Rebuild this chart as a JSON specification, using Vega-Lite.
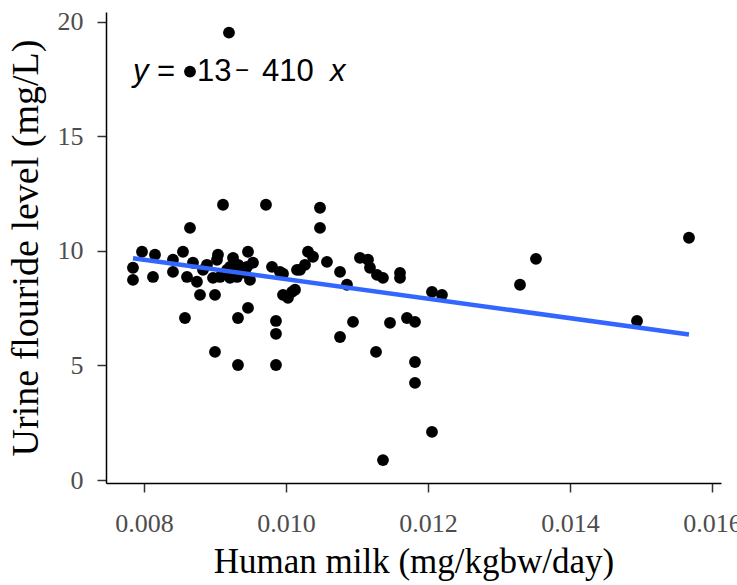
{
  "$schema": "https://vega.github.io/schema/vega-lite/v6.json",
  "width": 615,
  "height": 471,
  "autosize": {"type": "none"},
  "padding": {"left": 106, "top": 12, "right": 16, "bottom": 102},
  "background": "white",
  "config": {
    "view": {"stroke": null},
    "axis": {
      "grid": false,
      "domainColor": "#000000",
      "domainWidth": 1.5,
      "tickColor": "#333333",
      "tickWidth": 1.5,
      "tickSize": 9,
      "labelFont": "Liberation Serif",
      "labelFontSize": 26,
      "labelColor": "#4D4D4D",
      "titleFont": "Liberation Serif",
      "titleFontWeight": "normal",
      "titleColor": "#000000",
      "labelFlush": false,
      "labelOverlap": false,
      "labelBound": false
    }
  },
  "datasets": {
    "pts": [
      {"milk": 0.009197, "urine": 19.52},
      {"milk": 0.008648, "urine": 17.82},
      {"milk": 0.009113, "urine": 12.01},
      {"milk": 0.009718, "urine": 12.01},
      {"milk": 0.010479, "urine": 11.88},
      {"milk": 0.010479, "urine": 11.0},
      {"milk": 0.008648, "urine": 11.0},
      {"milk": 0.007972, "urine": 9.96},
      {"milk": 0.008155, "urine": 9.83},
      {"milk": 0.008549, "urine": 9.96},
      {"milk": 0.007845, "urine": 9.26},
      {"milk": 0.007845, "urine": 8.73},
      {"milk": 0.008127, "urine": 8.86},
      {"milk": 0.008408, "urine": 9.61},
      {"milk": 0.008408, "urine": 9.08},
      {"milk": 0.008606, "urine": 8.86},
      {"milk": 0.008746, "urine": 8.65},
      {"milk": 0.008789, "urine": 8.08},
      {"milk": 0.009, "urine": 8.08},
      {"milk": 0.009028, "urine": 9.61},
      {"milk": 0.009042, "urine": 9.83},
      {"milk": 0.008972, "urine": 8.82},
      {"milk": 0.009211, "urine": 8.82},
      {"milk": 0.009254, "urine": 9.69},
      {"milk": 0.009465, "urine": 9.96},
      {"milk": 0.009451, "urine": 9.30},
      {"milk": 0.009535, "urine": 9.48},
      {"milk": 0.009493, "urine": 8.73},
      {"milk": 0.009803, "urine": 9.30},
      {"milk": 0.009915, "urine": 9.08},
      {"milk": 0.010155, "urine": 9.17},
      {"milk": 0.009958, "urine": 8.08},
      {"milk": 0.010085, "urine": 8.21},
      {"milk": 0.009211, "urine": 9.30},
      {"milk": 0.009352, "urine": 9.30},
      {"milk": 0.008831, "urine": 9.17},
      {"milk": 0.008887, "urine": 9.39},
      {"milk": 0.00869, "urine": 9.48},
      {"milk": 0.009169, "urine": 9.17},
      {"milk": 0.00907, "urine": 8.86},
      {"milk": 0.00931, "urine": 8.86},
      {"milk": 0.009155, "urine": 9.04},
      {"milk": 0.009423, "urine": 9.04},
      {"milk": 0.009324, "urine": 9.39},
      {"milk": 0.009958, "urine": 9.0},
      {"milk": 0.01031, "urine": 9.96},
      {"milk": 0.01038, "urine": 9.74},
      {"milk": 0.010577, "urine": 9.52},
      {"milk": 0.010197, "urine": 9.17},
      {"milk": 0.010268, "urine": 9.39},
      {"milk": 0.010761, "urine": 9.08},
      {"milk": 0.010859, "urine": 8.52},
      {"milk": 0.011042, "urine": 9.69},
      {"milk": 0.011155, "urine": 9.61},
      {"milk": 0.011183, "urine": 9.26},
      {"milk": 0.011282, "urine": 8.95},
      {"milk": 0.011366, "urine": 8.82},
      {"milk": 0.011606, "urine": 9.04},
      {"milk": 0.011606, "urine": 8.82},
      {"milk": 0.012056, "urine": 8.21},
      {"milk": 0.012197, "urine": 8.08},
      {"milk": 0.010127, "urine": 8.30},
      {"milk": 0.010028, "urine": 7.95},
      {"milk": 0.009465, "urine": 7.51},
      {"milk": 0.008577, "urine": 7.07},
      {"milk": 0.009324, "urine": 7.07},
      {"milk": 0.009859, "urine": 6.94},
      {"milk": 0.009859, "urine": 6.38},
      {"milk": 0.009, "urine": 5.59},
      {"milk": 0.009324, "urine": 5.02},
      {"milk": 0.009859, "urine": 5.02},
      {"milk": 0.010944, "urine": 6.90},
      {"milk": 0.010761, "urine": 6.24},
      {"milk": 0.011465, "urine": 6.86},
      {"milk": 0.011704, "urine": 7.07},
      {"milk": 0.011817, "urine": 6.90},
      {"milk": 0.011268, "urine": 5.59},
      {"milk": 0.011817, "urine": 5.15},
      {"milk": 0.011817, "urine": 4.24},
      {"milk": 0.012056, "urine": 2.10},
      {"milk": 0.011366, "urine": 0.87},
      {"milk": 0.015676, "urine": 10.57},
      {"milk": 0.013521, "urine": 9.65},
      {"milk": 0.013296, "urine": 8.52},
      {"milk": 0.014944, "urine": 6.94}
    ],
    "fit": [
      {"milk": 0.007845, "urine": 9.68},
      {"milk": 0.015676, "urine": 6.35}
    ],
    "eqPlain": [
      {"milk": 0.008183, "urine": 17.41, "t": "="},
      {"milk": 0.008746, "urine": 17.41, "t": "13"},
      {"milk": 0.009662, "urine": 17.41, "t": "410"}
    ],
    "eqDash": [
      {"milk": 0.00938, "urine": 17.41, "t": "−"}
    ],
    "eqItalic": [
      {"milk": 0.007845, "urine": 17.41, "t": "y"},
      {"milk": 0.01062, "urine": 17.41, "t": "x"}
    ]
  },
  "encoding": {
    "x": {
      "field": "milk",
      "type": "quantitative",
      "title": "Human milk (mg/kgbw/day)",
      "scale": {"domain": [0.007465, 0.016127], "nice": false, "zero": false},
      "axis": {"values": [0.008, 0.010, 0.012, 0.014, 0.016], "format": ".3f", "titleFontSize": 35, "labelPadding": 18, "titlePadding": 8}
    },
    "y": {
      "field": "urine",
      "type": "quantitative",
      "title": "Urine flouride level (mg/L)",
      "scale": {"domain": [-0.13, 20.42], "nice": false, "zero": false},
      "axis": {"values": [0, 5, 10, 15, 20], "titleFontSize": 38, "labelPadding": 14, "titlePadding": 12}
    }
  },
  "layer": [
    {
      "data": {"name": "eqPlain"},
      "mark": {"type": "text", "font": "Liberation Sans", "fontSize": 31, "align": "left", "baseline": "alphabetic", "color": "#000000"},
      "encoding": {"text": {"field": "t"}}
    },
    {
      "data": {"name": "eqDash"},
      "mark": {"type": "text", "font": "Liberation Sans", "fontSize": 24, "align": "center", "baseline": "alphabetic", "dy": -3, "color": "#000000"},
      "encoding": {"text": {"field": "t"}}
    },
    {
      "data": {"name": "eqItalic"},
      "mark": {"type": "text", "font": "Liberation Sans", "fontSize": 31, "fontStyle": "italic", "align": "left", "baseline": "alphabetic", "color": "#000000"},
      "encoding": {"text": {"field": "t"}}
    },
    {
      "data": {"name": "pts"},
      "mark": {"type": "circle", "size": 140, "color": "#000000", "opacity": 1}
    },
    {
      "data": {"name": "fit"},
      "mark": {"type": "line", "color": "#3366FF", "strokeWidth": 4.5},
      "encoding": {}
    }
  ]
}
